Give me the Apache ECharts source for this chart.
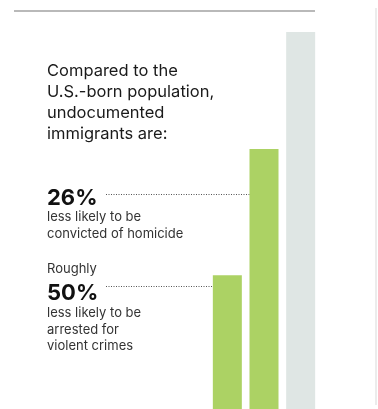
<!DOCTYPE html>
<html>
<head>
<meta charset="utf-8">
<script src="https://cdn.jsdelivr.net/npm/echarts@6/dist/echarts.min.js"></script>
<style>
html, body { margin: 0; padding: 0; background: #fff; }
#chart { width: 378px; height: 409px; }
</style>
</head>
<body>
<div id="chart"></div>
<script>
// bar heights relative to the U.S.-born bar (=100)
const categories = ['Violent crime arrests', 'Homicide convictions', 'U.S.-born'];
const values = [48, 75, 100];
const barColors = ['#acd264', '#acd264', '#dfe6e4'];

const headline = ['Compared to the', 'U.S.-born population,', 'undocumented', 'immigrants are:'];
const stat1 = { big: '26%', lines: ['less likely to be', 'convicted of homicide'] };
const stat2 = { pre: 'Roughly', big: '50%', lines: ['less likely to be', 'arrested for', 'violent crimes'] };

const chart = echarts.init(document.getElementById('chart'));
const font = 'Inter, "Liberation Sans", sans-serif';

function textLines(lines, x, y, lh, size, color, weight) {
  return lines.map((t, i) => ({
    type: 'text', left: x, top: y + i * lh, silent: true,
    style: { text: t, fill: color, font: (weight || 'normal') + ' ' + size + 'px ' + font }
  }));
}

const option = {
  animation: false,
  // bars run past the bottom of the picture
  grid: { left: 209, top: 32, width: 110, height: 468, outerBoundsMode: 'none' },
  xAxis: {
    type: 'category', data: categories, show: false
  },
  yAxis: { type: 'value', min: 0, max: 100, show: false },
  series: [{
    type: 'bar',
    barWidth: 29,
    data: values.map((v, i) => ({ value: v, itemStyle: { color: barColors[i] } }))
  }]
};
chart.setOption(option);

// leader lines end at the left edge of their bars
const edge = i => chart.convertToPixel({ xAxisIndex: 0 }, categories[i]) - 14.5;

const graphics = [
  { type: 'line', silent: true, shape: { x1: 14, y1: 11, x2: 315, y2: 11 }, style: { stroke: '#b9b9b9', lineWidth: 2 } },
  { type: 'line', silent: true, shape: { x1: 376, y1: 8, x2: 376, y2: 405 }, style: { stroke: '#e6e6e6', lineWidth: 1.5 } },
  { type: 'line', silent: true, shape: { x1: 106, y1: 194.5, x2: edge(1), y2: 194.5 }, style: { stroke: '#555', lineWidth: 1, lineDash: [1, 1.5] } },
  { type: 'line', silent: true, shape: { x1: 106, y1: 286.5, x2: edge(0), y2: 286.5 }, style: { stroke: '#555', lineWidth: 1, lineDash: [1, 1.5] } }
]
  .concat(textLines(headline, 47, 63, 21, 16.5, '#1a1a1a'))
  .concat(textLines([stat1.big], 47, 187, 24, 22, '#111', 'bold'))
  .concat(textLines(stat1.lines, 47, 211, 16.5, 13, '#333'))
  .concat(textLines([stat2.pre], 47, 263, 16, 13, '#333'))
  .concat(textLines([stat2.big], 47, 282, 24, 22, '#111', 'bold'))
  .concat(textLines(stat2.lines, 47, 307, 16.5, 13, '#333'));

chart.setOption({ graphic: graphics });
</script>
</body>
</html>
